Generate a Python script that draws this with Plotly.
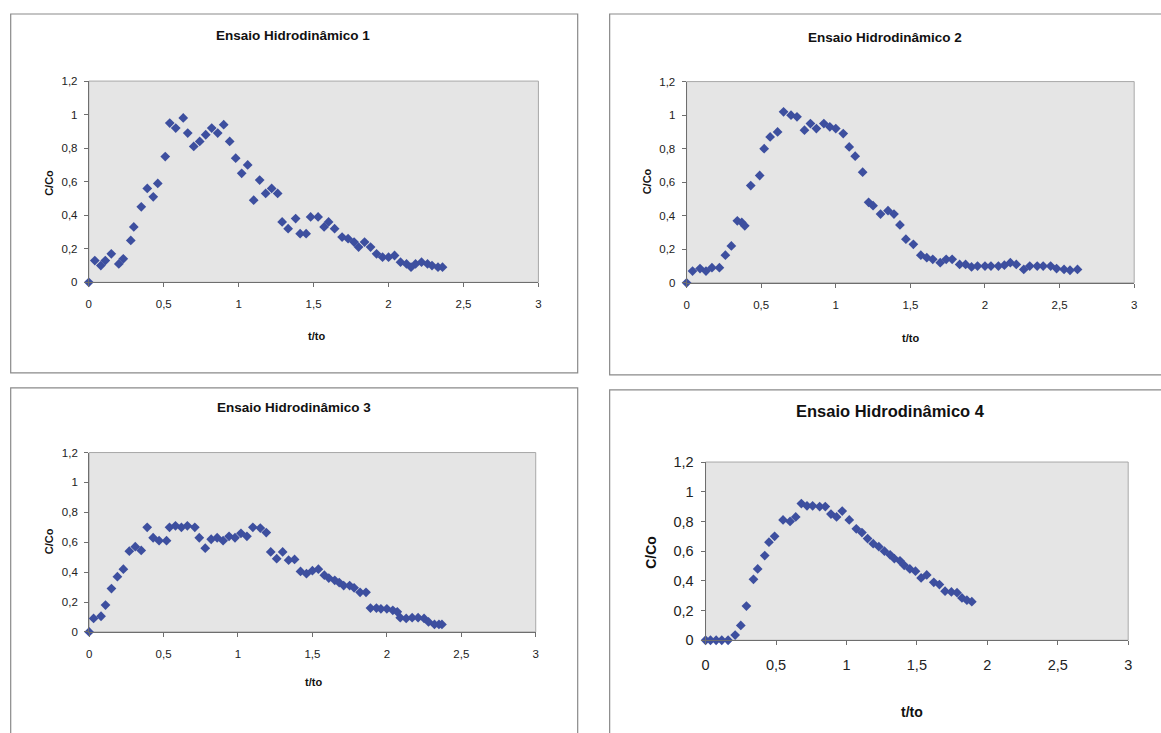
import plotly.graph_objects as go

# ---------------- data ----------------
x1 = [0, 0.04, 0.08, 0.11, 0.15, 0.20, 0.23, 0.28, 0.30, 0.35, 0.39, 0.43, 0.46, 0.51, 0.54, 0.58, 0.63, 0.66, 0.70, 0.74,
      0.78, 0.82, 0.86, 0.90, 0.94, 0.98, 1.02, 1.06, 1.10, 1.14, 1.18, 1.22, 1.26, 1.29, 1.33, 1.38, 1.41, 1.45, 1.48, 1.53,
      1.57, 1.60, 1.64, 1.69, 1.73, 1.77, 1.80, 1.84, 1.88, 1.92, 1.96, 2.00, 2.04, 2.08, 2.12, 2.15, 2.18, 2.22, 2.26, 2.29,
      2.33, 2.36]
y1 = [0, 0.13, 0.10, 0.13, 0.17, 0.11, 0.14, 0.25, 0.33, 0.45, 0.56, 0.51, 0.59, 0.75, 0.95, 0.92, 0.98, 0.89, 0.81, 0.84,
      0.88, 0.92, 0.89, 0.94, 0.84, 0.74, 0.65, 0.70, 0.49, 0.61, 0.53, 0.56, 0.53, 0.36, 0.32, 0.38, 0.29, 0.29, 0.39, 0.39,
      0.33, 0.36, 0.32, 0.27, 0.26, 0.24, 0.21, 0.24, 0.21, 0.17, 0.15, 0.15, 0.16, 0.12, 0.11, 0.09, 0.11, 0.12, 0.11, 0.10,
      0.09, 0.09]

x2 = [0, 0.04, 0.09, 0.13, 0.17, 0.22, 0.26, 0.30, 0.34, 0.37, 0.39, 0.43, 0.49, 0.52, 0.56, 0.61, 0.65, 0.70, 0.74, 0.79,
      0.83, 0.87, 0.92, 0.96, 1.00, 1.05, 1.09, 1.13, 1.18, 1.22, 1.25, 1.30, 1.35, 1.39, 1.43, 1.47, 1.52, 1.57, 1.61, 1.65,
      1.70, 1.74, 1.78, 1.83, 1.87, 1.91, 1.95, 2.00, 2.04, 2.09, 2.13, 2.17, 2.21, 2.26, 2.30, 2.35, 2.39, 2.44, 2.48, 2.53,
      2.57, 2.62]
y2 = [0, 0.07, 0.085, 0.07, 0.09, 0.09, 0.165, 0.22, 0.37, 0.36, 0.34, 0.58, 0.64, 0.80, 0.87, 0.90, 1.02, 1.00, 0.99, 0.91,
      0.95, 0.92, 0.95, 0.93, 0.92, 0.89, 0.81, 0.755, 0.66, 0.48, 0.46, 0.41, 0.43, 0.41, 0.345, 0.26, 0.23, 0.165, 0.15, 0.14,
      0.12, 0.14, 0.14, 0.11, 0.11, 0.095, 0.10, 0.10, 0.10, 0.10, 0.105, 0.12, 0.11, 0.08, 0.10, 0.10, 0.10, 0.10, 0.085, 0.08,
      0.075, 0.08]

x3 = [0, 0.03, 0.08, 0.11, 0.15, 0.19, 0.23, 0.27, 0.31, 0.35, 0.39, 0.43, 0.47, 0.52, 0.54, 0.58, 0.62, 0.66, 0.71, 0.74,
      0.78, 0.82, 0.86, 0.90, 0.94, 0.98, 1.02, 1.06, 1.10, 1.15, 1.19, 1.22, 1.26, 1.30, 1.34, 1.38, 1.42, 1.46, 1.50, 1.54,
      1.58, 1.61, 1.65, 1.68, 1.71, 1.75, 1.78, 1.82, 1.86, 1.89, 1.93, 1.96, 2.00, 2.04, 2.07, 2.09, 2.13, 2.17, 2.21, 2.25,
      2.28, 2.32, 2.35, 2.37]
y3 = [0, 0.09, 0.105, 0.18, 0.29, 0.37, 0.42, 0.54, 0.57, 0.545, 0.70, 0.63, 0.61, 0.61, 0.70, 0.71, 0.70, 0.71, 0.70, 0.63,
      0.56, 0.62, 0.63, 0.61, 0.64, 0.63, 0.66, 0.64, 0.70, 0.695, 0.665, 0.535, 0.49, 0.535, 0.48, 0.485, 0.405, 0.39, 0.41, 0.42,
      0.38, 0.36, 0.345, 0.33, 0.31, 0.31, 0.295, 0.265, 0.265, 0.16, 0.16, 0.155, 0.155, 0.145, 0.135, 0.095, 0.09, 0.095, 0.095, 0.09,
      0.067, 0.05, 0.05, 0.05]

x4 = [0, 0.035, 0.075, 0.115, 0.16, 0.21, 0.25, 0.29, 0.34, 0.37, 0.42, 0.45, 0.49, 0.55, 0.60, 0.64, 0.68, 0.72, 0.76, 0.81,
      0.85, 0.89, 0.93, 0.97, 1.02, 1.07, 1.11, 1.15, 1.19, 1.23, 1.27, 1.31, 1.34, 1.38, 1.41, 1.45, 1.49, 1.53, 1.57, 1.62,
      1.66, 1.70, 1.745, 1.785, 1.82, 1.855, 1.89]
y4 = [0, 0, 0, 0, 0, 0.035, 0.10, 0.23, 0.41, 0.48, 0.57, 0.66, 0.70, 0.81, 0.80, 0.83, 0.92, 0.905, 0.905, 0.90,
      0.90, 0.85, 0.83, 0.87, 0.81, 0.75, 0.725, 0.685, 0.65, 0.63, 0.60, 0.575, 0.55, 0.535, 0.505, 0.48, 0.465, 0.42, 0.44, 0.39,
      0.375, 0.33, 0.325, 0.32, 0.285, 0.27, 0.26]

titles = ["Ensaio Hidrodinâmico 1", "Ensaio Hidrodinâmico 2", "Ensaio Hidrodinâmico 3", "Ensaio Hidrodinâmico 4"]
x_title = "t/to"
y_title = "C/Co"
x_ticks = [0, 0.5, 1, 1.5, 2, 2.5, 3]
y_ticks = [0, 0.2, 0.4, 0.6, 0.8, 1, 1.2]

# ---------------- layout geometry ----------------
W, H = 1161, 733
# positions below are measured on the target picture; this maps them onto the figure
SX, OX = 0.994, 2.8
SY, OY = 0.977, 8.5
FONT = "Liberation Sans, Arial, sans-serif"
MARKER = "#3d4f9f"

panels = [
    dict(plot=(87.7, 81.5, 537.7, 282.5), title=(292, 36), yt=(48, 183), xt=(316, 336),
         frame=(9.5, 14.5, 577, 373), fs=(13.5, 11, 11.5)),
    dict(plot=(686, 82, 1134, 283), title=(885, 38), yt=(646, 182), xt=(910, 338),
         frame=(609, 14.5, 1175, 375), fs=(13.5, 11, 11.5)),
    dict(plot=(88, 452.5, 535, 631.7), title=(293, 408), yt=(48, 541), xt=(313, 682),
         frame=(9.5, 388, 577, 760), fs=(13.5, 11, 11.5)),
    dict(plot=(705, 462, 1128, 640), title=(890, 411), yt=(651, 552), xt=(912, 712),
         frame=(609, 390, 1175, 760), fs=(16.5, 14, 14.5)),
]
series = [(x1, y1), (x2, y2), (x3, y3), (x4, y4)]


def fx(px):
    return ((px - OX) / SX) / W


def fy(py):
    return 1 - ((py - OY) / SY) / H


fig = go.Figure()
annotations = []
shapes = []
layout_axes = {}

for i, (p, (xs, ys)) in enumerate(zip(panels, series)):
    n = "" if i == 0 else str(i + 1)
    l, t, r, b = p["plot"]
    fs_title, fs_axis, fs_tick = p["fs"]
    fig.add_trace(go.Scatter(
        x=xs, y=ys, mode="markers", xaxis="x" + n, yaxis="y" + n,
        marker=dict(symbol="diamond", size=7.5, color=MARKER, line=dict(width=0)),
        showlegend=False, cliponaxis=False,
    ))
    layout_axes["xaxis" + n] = dict(
        domain=[fx(l), fx(r)], range=[0, 3], anchor="y" + n, tickvals=x_ticks,
        showgrid=False, zeroline=False, showline=True, linecolor="#6e6e6e", linewidth=1,
        ticks="outside", ticklen=4, tickcolor="#6e6e6e", ticklabelstandoff=7,
        tickfont=dict(family=FONT, size=fs_tick, color="#222"),
    )
    layout_axes["yaxis" + n] = dict(
        domain=[fy(b), fy(t)], range=[0, 1.2], anchor="x" + n, tickvals=y_ticks,
        showgrid=False, zeroline=False, showline=True, linecolor="#6e6e6e", linewidth=1,
        ticks="outside", ticklen=4, tickcolor="#6e6e6e", ticklabelstandoff=4,
        tickfont=dict(family=FONT, size=fs_tick, color="#222"),
    )
    shapes.append(dict(type="rect", xref="x%s domain" % n, yref="y%s domain" % n,
                       x0=0, x1=1, y0=0, y1=1, line=dict(color="#a8a8a8", width=1), layer="below"))
    fl, ft, fr, fb = p["frame"]
    shapes.append(dict(type="rect", xref="paper", yref="paper", x0=fx(fl), x1=fx(fr), y0=fy(fb), y1=fy(ft),
                       line=dict(color="#8a8a8a", width=1.2), fillcolor="rgba(0,0,0,0)"))
    annotations.append(dict(text="<b>%s</b>" % titles[i], x=fx(p["title"][0]), y=fy(p["title"][1]),
                            xref="paper", yref="paper", showarrow=False, xanchor="center", yanchor="middle",
                            font=dict(family=FONT, size=fs_title, color="#111")))
    annotations.append(dict(text="<b>%s</b>" % y_title, x=fx(p["yt"][0]), y=fy(p["yt"][1]),
                            xref="paper", yref="paper", showarrow=False, textangle=-90,
                            xanchor="center", yanchor="middle",
                            font=dict(family=FONT, size=fs_axis, color="#111")))
    annotations.append(dict(text="<b>%s</b>" % x_title, x=fx(p["xt"][0]), y=fy(p["xt"][1]),
                            xref="paper", yref="paper", showarrow=False, xanchor="center", yanchor="middle",
                            font=dict(family=FONT, size=fs_axis, color="#111")))

fig.update_layout(
    width=W, height=H, margin=dict(l=0, r=0, t=0, b=0, pad=0),
    paper_bgcolor="white", plot_bgcolor="#e5e5e5",
    separators=", ", annotations=annotations, shapes=shapes,
    font=dict(family=FONT, color="#222"),
    **layout_axes,
)

fig.write_html("out.html")
